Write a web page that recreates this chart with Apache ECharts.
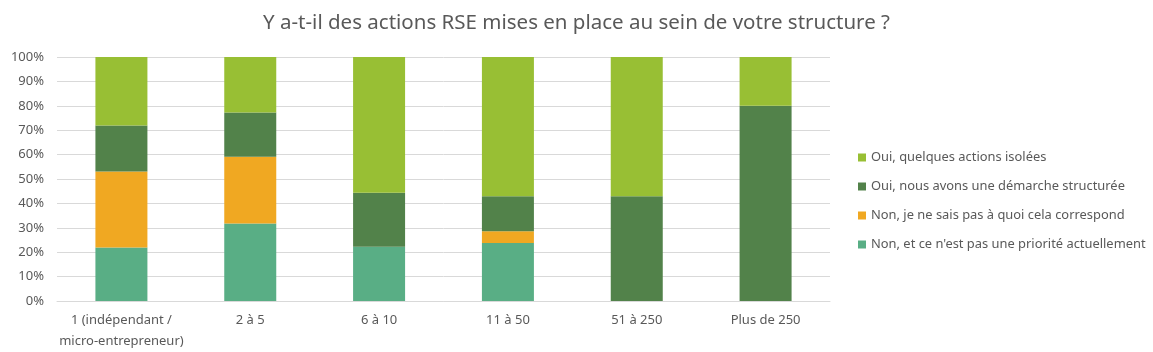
<!DOCTYPE html>
<html>
<head>
<meta charset="utf-8">
<script src="https://cdn.jsdelivr.net/npm/echarts@6/dist/echarts.min.js"></script>
<style>
  html, body { margin: 0; padding: 0; background: #fff; }
  #chart { width: 1153px; height: 352px; }
</style>
</head>
<body>
<div id="chart"></div>
<script>
const categories = ['1 (indépendant /\nmicro-entrepreneur)', '2 à 5', '6 à 10', '11 à 50', '51 à 250', 'Plus de 250']
const pasPriorite = [21.9, 31.8, 22.2, 23.8, 0, 0]
const neSaisPas = [31.2, 27.3, 0, 4.8, 0, 0]
const demarche = [18.8, 18.2, 22.2, 14.3, 42.9, 80]
const actionsIsolees = [28.1, 22.7, 55.6, 57.1, 57.1, 20]
const yTicks = [0, 10, 20, 30, 40, 50, 60, 70, 80, 90, 100]

const textColor = '#595959'
const font = 'Noto Sans'

function bar(name, data, color) {
  return {
    name: name,
    type: 'bar',
    stack: 'total',
    barWidth: 52,
    itemStyle: { color: color },
    data: data
  }
}

const chart = echarts.init(document.getElementById('chart'))
chart.setOption({
  animation: false,
  textStyle: { fontFamily: font },
  title: {
    text: 'Y a-t-il des actions RSE mises en place au sein de votre structure ?',
    left: 'center',
    top: 8,
    textStyle: { color: textColor, fontSize: 20.5, fontWeight: 'normal', fontFamily: font }
  },
  grid: { left: 57, right: 323, top: 57, bottom: 51 },
  legend: {
    orient: 'vertical',
    left: 853,
    top: 146,
    itemWidth: 8,
    itemHeight: 8,
    itemGap: 16,
    icon: 'rect',
    textStyle: { color: textColor, fontSize: 12.9, fontFamily: font },
    data: ['Oui, quelques actions isolées', 'Oui, nous avons une démarche structurée',
      'Non, je ne sais pas à quoi cela correspond', "Non, et ce n'est pas une priorité actuellement"]
  },
  xAxis: {
    type: 'category',
    data: categories,
    axisTick: { show: false },
    axisLine: { lineStyle: { color: '#d9d9d9' } },
    axisLabel: { color: textColor, fontSize: 13, lineHeight: 21, margin: 9, interval: 0 }
  },
  yAxis: {
    type: 'value',
    min: yTicks[0],
    max: yTicks[yTicks.length - 1],
    interval: 10,
    axisLine: { show: false },
    axisTick: { show: false },
    splitLine: { lineStyle: { color: '#d9d9d9' } },
    axisLabel: { color: textColor, fontSize: 13, margin: 13, formatter: '{value}%' }
  },
  series: [
    bar("Non, et ce n'est pas une priorité actuellement", pasPriorite, '#59ae85'),
    bar('Non, je ne sais pas à quoi cela correspond', neSaisPas, '#f0a822'),
    bar('Oui, nous avons une démarche structurée', demarche, '#52824a'),
    bar('Oui, quelques actions isolées', actionsIsolees, '#98bf34')
  ]
})
window.addEventListener('resize', () => {
  chart.resize()
})
</script>
</body>
</html>
